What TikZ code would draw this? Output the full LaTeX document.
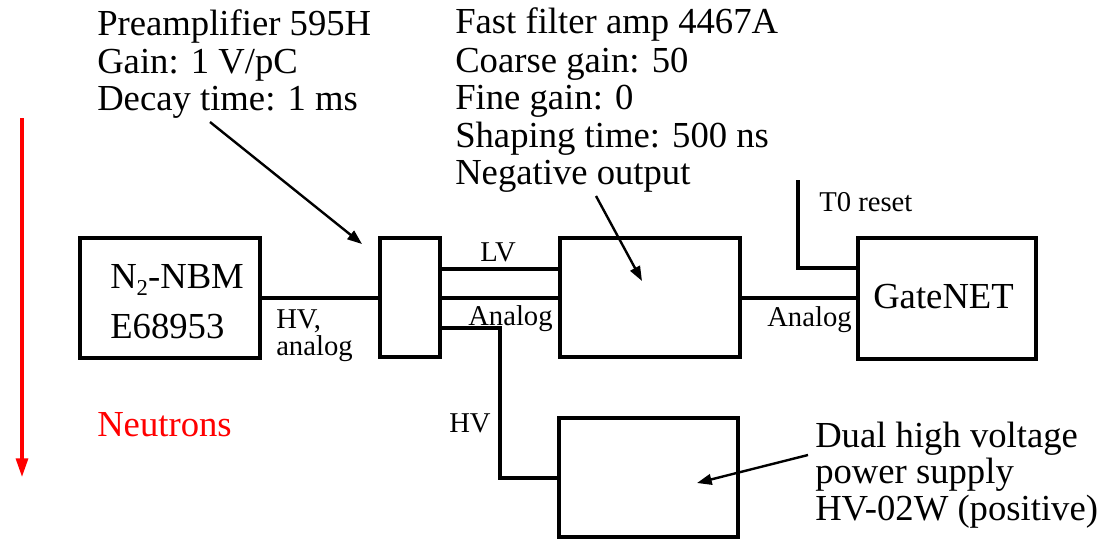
\documentclass[tikz,border=0pt]{standalone}
\usepackage{fontspec}
\setmainfont{Liberation Serif}
\usetikzlibrary{arrows.meta}
\begin{document}
\begin{tikzpicture}[x=0.75pt,y=-0.75pt,
  box/.style={draw,line width=3pt,rectangle,inner sep=0pt},
  wire/.style={line width=3pt},
  note/.style={line width=1.8pt,-{Triangle[length=11pt,width=8pt]}},
  big/.style={inner sep=0pt,anchor=base west,font=\fontsize{27.5}{28}\selectfont},
  small/.style={inner sep=0pt,anchor=base west,font=\fontsize{21.5}{22}\selectfont},
  bigblock/.style={inner sep=0pt,anchor=north west,align=left,font=\fontsize{27.5}{28.2}\selectfont}]
\useasboundingbox (0,0) rectangle (1104,540);

% boxes
\node[box,minimum width=135pt,minimum height=90pt] (nbm) at (170,298) {};
\node[box,minimum width=45pt,minimum height=89pt] (pre) at (410,297.5) {};
\node[box,minimum width=135pt,minimum height=89pt] (ffa) at (650,297.5) {};
\node[box,minimum width=133.5pt,minimum height=91pt] (gate) at (947,298.5) {};
\node[box,minimum width=134pt,minimum height=89pt] (hvps) at (648.5,477.5) {};

% box texts
\node[big] (nbmt1) at (110,288) {N\raisebox{-0.45ex}{\fontsize{17}{17}\selectfont 2}-NBM};
\node[big] (nbmt2) at (110,338) {E68953};
\node[big] (gatet) at (873,308) {GateNET};

% wires
\draw[wire] (nbm.east |- 0,298) -- (pre.west |- 0,298);
\draw[wire] (pre.east |- 0,269) -- (ffa.west |- 0,269);
\draw[wire] (pre.east |- 0,298) -- (ffa.west |- 0,298);
\draw[wire] (ffa.east |- 0,298) -- (gate.west |- 0,298);
\coordinate (hvbend) at (500,328);
\draw[wire] (pre.east |- 0,328) -- (hvbend) |- (hvps.west |- 0,478);
\coordinate (t0) at (798,180);
\draw[wire] (t0) |- (gate.west |- 0,268);

% wire labels
\node[small] (lLV) at (480,261) {LV};
\node[small] (lAn1) at (468,325) {Analog};
\node[small] (lHVa) at (276,328) {HV,};
\node[small] (lHVb) at (276,355) {analog};
\node[small] (lAn2) at (767,326) {Analog};
\node[small] (lT0) at (819,211) {T0 reset};
\node[small] (lHV) at (449,432) {HV};

% annotations
\node[big] (preA) at (97,35) {Preamplifier 595H};
\node[big] (preB) at (97,73) {Gain: 1 V/pC};
\node[big] (preC) at (97,110) {Decay time: 1 ms};
\node[big] (ffA) at (455,33) {Fast filter amp 4467A};
\node[big] (ffB) at (455,72) {Coarse gain: 50};
\node[big] (ffC) at (455,109) {Fine gain: 0};
\node[big] (ffD) at (455,147) {Shaping time: 500 ns};
\node[big] (ffE) at (455,184) {Negative output};
\node[big] (hvA) at (815,447) {Dual high voltage};
\node[big] (hvB) at (815,483) {power supply};
\node[big] (hvC) at (815,520) {HV-02W (positive)};

\coordinate (preS) at (210,122);
\coordinate (preT) at (362,244);
\draw[note] (preS) -- (preT);
\coordinate (ffS) at (596,196);
\coordinate (ffT) at (642,281);
\draw[note] (ffS) -- (ffT);
\coordinate (hvS) at (808,455);
\coordinate (hvT) at (697,483);
\draw[note] (hvS) -- (hvT);

% neutrons
\node[big,text=red] (neu) at (97,436) {Neutrons};
\coordinate (rA) at (22,118);
\coordinate (rB) at (22,477);
\draw[red,line width=2.4pt,-{Triangle[length=14pt,width=9pt]}] (rA) -- (rB);
\end{tikzpicture}
\end{document}
